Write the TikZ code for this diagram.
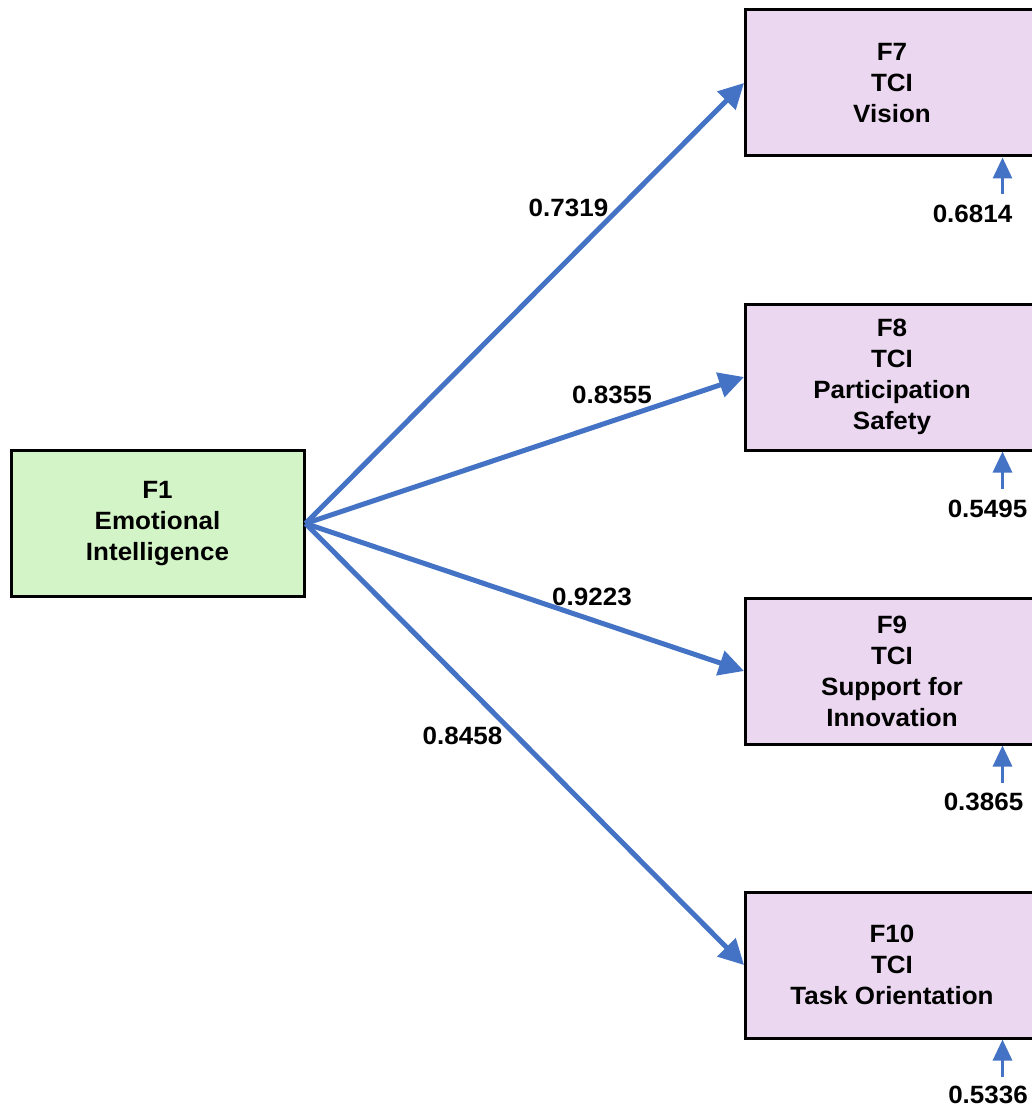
\documentclass[tikz,border=0pt]{standalone}
\usepackage{fontspec}
\setmainfont{Liberation Sans}[FakeStretch=1.04]
\usetikzlibrary{arrows.meta}
\definecolor{arrowblue}{HTML}{4472C4}
\definecolor{boxgreen}{HTML}{D3F4C6}
\definecolor{boxpurple}{HTML}{EBD8F0}
\begin{document}
\begin{tikzpicture}[x=1pt,y=-1pt,
  every node/.style={font=\fontsize{25}{31}\selectfont\bfseries},
  factor/.style={draw=black, line width=3pt, rectangle, minimum width=293pt, minimum height=146pt, align=center, inner sep=0pt},
  path/.style={draw=arrowblue, line width=5pt, -{Triangle[length=25pt,width=25pt]}},
  res/.style={draw=arrowblue, line width=3pt, -{Triangle[length=21pt,width=19pt]}},
  lab/.style={inner sep=0pt}]
\clip (0,0) rectangle (1032,1110);
\fill[white] (0,0) rectangle (1032,1110);
\node[factor, fill=boxgreen] (f1) at (157.5,523.5) {F1\\Emotional\\Intelligence};
\node[factor, fill=boxpurple] (f7) at (892,83) {F7\\TCI\\Vision};
\node[factor, fill=boxpurple] (f8) at (892,377) {F8\\TCI\\Participation\\Safety};
\node[factor, fill=boxpurple] (f9) at (892,671) {F9\\TCI\\Support for\\Innovation};
\node[factor, fill=boxpurple] (f10) at (892,965) {F10\\TCI\\Task Orientation};
\draw[path] (f1.east) -- (f7.west);
\draw[path] (f1.east) -- (f8.west);
\draw[path] (f1.east) -- (f9.west);
\draw[path] (f1.east) -- (f10.west);
\node[lab] (l7) at (568.5,207.5) {0.7319};
\node[lab] (l8) at (612,395) {0.8355};
\node[lab] (l9) at (592,597) {0.9223};
\node[lab] (l10) at (462.5,735.5) {0.8458};
\coordinate (r7) at (1002.5,194);
\coordinate (r8) at (1002.5,489);
\coordinate (r9) at (1002.5,783);
\coordinate (r10) at (1002.5,1077);
\draw[res] (r7) -- (r7 |- f7.south);
\draw[res] (r8) -- (r8 |- f8.south);
\draw[res] (r9) -- (r9 |- f9.south);
\draw[res] (r10) -- (r10 |- f10.south);
\node[lab] (e7) at (972.5,213.5) {0.6814};
\node[lab] (e8) at (987.5,508.5) {0.5495};
\node[lab] (e9) at (983.5,802) {0.3865};
\node[lab] (e10) at (988,1095) {0.5336};
\end{tikzpicture}
\end{document}
